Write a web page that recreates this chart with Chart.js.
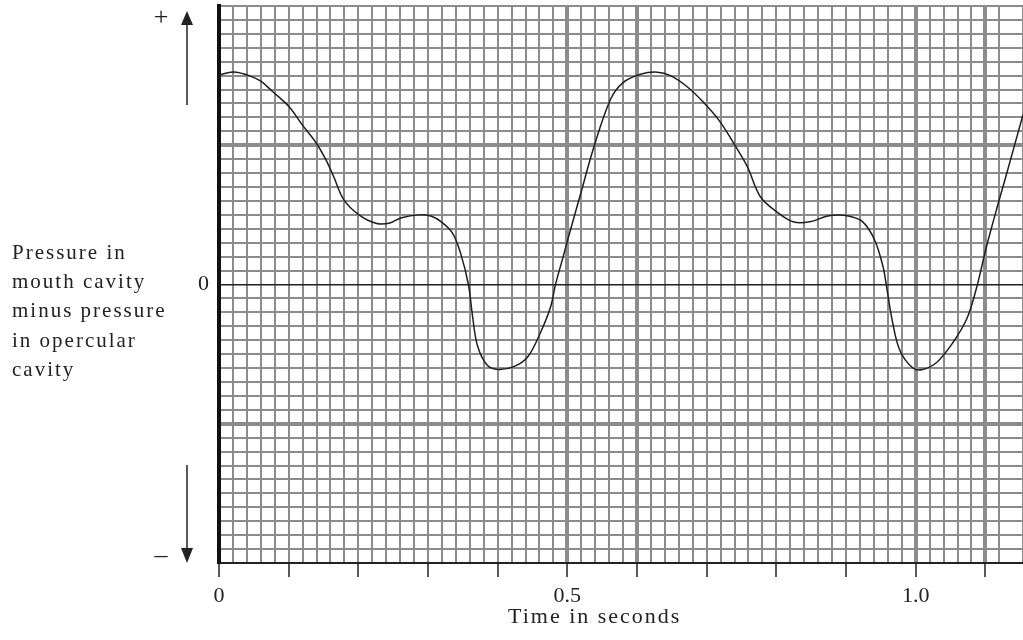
<!DOCTYPE html>
<html>
<head>
<meta charset="utf-8">
<script src="https://cdn.jsdelivr.net/npm/chart.js@4"></script>
<style>
  body { margin: 0; background: #fff; }
</style>
</head>
<body>
<canvas id="gillChart" width="1023" height="640"></canvas>
<script>
// time (s) and pressure difference (in big squares)
const times = [0, 0.004, 0.024, 0.043, 0.060, 0.076, 0.100, 0.119, 0.139, 0.153, 0.165, 0.179, 0.201,
  0.225, 0.244, 0.262, 0.287, 0.305, 0.319, 0.335, 0.347, 0.358, 0.364, 0.371, 0.385, 0.401, 0.423,
  0.443, 0.461, 0.476, 0.483, 0.494, 0.501, 0.519, 0.537, 0.562, 0.580, 0.605, 0.629, 0.648, 0.672,
  0.695, 0.719, 0.738, 0.758, 0.777, 0.801, 0.824, 0.848, 0.872, 0.888, 0.905, 0.924, 0.941, 0.953,
  0.958, 0.966, 0.977, 0.996, 1.010, 1.030, 1.053, 1.073, 1.087, 1.102, 1.120, 1.128, 1.154];
const pressure = [1.50, 1.51, 1.525, 1.50, 1.46, 1.39, 1.28, 1.15, 1.02, 0.90, 0.77, 0.61, 0.50,
  0.44, 0.44, 0.48, 0.50, 0.49, 0.45, 0.37, 0.22, 0.00, -0.23, -0.44, -0.58, -0.61, -0.59,
  -0.52, -0.35, -0.16, 0.00, 0.20, 0.33, 0.65, 0.97, 1.33, 1.45, 1.51, 1.525, 1.50, 1.42,
  1.31, 1.17, 1.02, 0.85, 0.63, 0.52, 0.45, 0.45, 0.49, 0.50, 0.49, 0.45, 0.32, 0.13,
  -0.01, -0.25, -0.47, -0.60, -0.61, -0.56, -0.42, -0.25, -0.03, 0.28, 0.61, 0.75, 1.22];

const xLabels = { 0: '0', 25: '0.5', 50: '1.0' };   // keyed by multiples of 0.02 s
const yLabel = ['Pressure in', 'mouth cavity', 'minus pressure', 'in opercular', 'cavity'];
const xTitle = 'Time in seconds';

const serif = "'Liberation Serif', 'DejaVu Serif', serif";
const gridGrey = '#8c8c8c';

function step50(v) {
  const r = Math.round(v * 50);
  return Math.abs(v * 50 - r) < 1e-6 ? r : null;
}

const decorations = {
  id: 'decorations',
  afterDraw(chart) {
    const c = chart.ctx;
    c.save();
    c.fillStyle = '#222';
    c.strokeStyle = '#222';

    c.font = '21px ' + serif;
    c.letterSpacing = '2px';
    c.textAlign = 'left';
    c.textBaseline = 'alphabetic';
    yLabel.forEach((line, i) => c.fillText(line, 12, 259 + i * 29.2));

    c.font = '22px ' + serif;
    c.letterSpacing = '2px';
    c.fillText(xTitle, 508, 623);

    c.letterSpacing = '0px';
    c.font = '26px ' + serif;
    c.textAlign = 'center';
    c.textBaseline = 'middle';
    c.fillText('+', 161, 18);
    c.fillText('\u2013', 161, 556);

    // arrows
    c.lineWidth = 1.5;
    c.beginPath();
    c.moveTo(187, 105); c.lineTo(187, 20);
    c.moveTo(187, 465); c.lineTo(187, 552);
    c.stroke();
    c.beginPath();
    c.moveTo(187, 11); c.lineTo(181, 25); c.lineTo(193, 25); c.closePath();
    c.moveTo(187, 563); c.lineTo(181, 548); c.lineTo(193, 548); c.closePath();
    c.fill();
    c.restore();
  }
};

new Chart(document.getElementById('gillChart'), {
  type: 'line',
  data: {
    datasets: [{
      data: times.map((t, i) => ({ x: t, y: pressure[i] })),
      borderColor: '#1e1e1e',
      borderWidth: 1.5,
      pointRadius: 0,
      tension: 0.35,
      fill: false
    }]
  },
  options: {
    responsive: false,
    animation: false,
    layout: { padding: { top: 6, right: 0, left: 0, bottom: 0 } },
    plugins: {
      legend: { display: false },
      tooltip: { enabled: false }
    },
    scales: {
      x: {
        type: 'linear',
        min: 0,
        max: 1.154,
        afterFit(scale) {
          scale.height = 77;
          scale.paddingLeft = 0;
          scale.paddingRight = 0;
        },
        border: { color: '#222', width: 2 },
        grid: {
          color: gridGrey,
          lineWidth: ctx => {
            const r = step50(ctx.tick.value);
            return (r === 25 || r === 30 || r === 50 || r === 55) ? 4 : 2;
          },
          tickLength: 14,
          tickColor: ctx => {
            const r = step50(ctx.tick.value);
            return (r !== null && r % 5 === 0) ? '#222' : 'rgba(0,0,0,0)';
          },
          tickWidth: 1.5
        },
        ticks: {
          stepSize: 0.02,
          autoSkip: false,
          maxRotation: 0,
          padding: 6,
          color: '#222',
          font: { family: serif, size: 22 },
          callback: v => {
            const r = step50(v);
            return r !== null && xLabels[r] !== undefined ? xLabels[r] : '';
          }
        }
      },
      y: {
        min: -2,
        max: 2,
        afterFit(scale) {
          scale.width = 219;
          scale.paddingTop = 0;
          scale.paddingBottom = 0;
        },
        border: { color: '#111', width: 4 },
        grid: {
          drawTicks: false,
          color: ctx => Math.abs(ctx.tick.value) < 1e-9 ? '#222' : gridGrey,
          lineWidth: ctx => {
            const v = ctx.tick.value;
            if (Math.abs(v) < 1e-9) return 1.5;
            return Math.abs(Math.abs(v) - 1) < 1e-9 ? 4 : 2;
          }
        },
        ticks: {
          stepSize: 0.1,
          autoSkip: false,
          padding: 10,
          color: '#222',
          font: { family: serif, size: 22 },
          callback: v => Math.abs(v) < 1e-9 ? '0' : ''
        }
      }
    }
  },
  plugins: [decorations]
});
</script>
</body>
</html>
